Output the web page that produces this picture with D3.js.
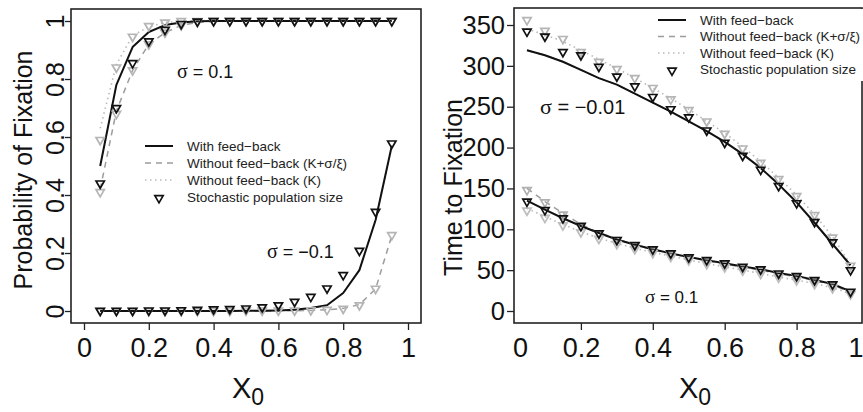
<!DOCTYPE html>
<html>
<head>
<meta charset="utf-8">
<script src="https://cdn.jsdelivr.net/npm/d3@7"></script>
<style>
  body { margin: 0; background: #fff; }
  text { font-family: "Liberation Sans", Arial, Helvetica, sans-serif; fill: #111; }
</style>
</head>
<body>
<div id="chart"></div>
<script>
// Canvas size
const width = 863,
      height = 412;

// Initial frequency x0 (shared by both panels)
const x0 = [0.05, 0.10, 0.15, 0.20, 0.25, 0.30, 0.35, 0.40, 0.45, 0.50,
            0.55, 0.60, 0.65, 0.70, 0.75, 0.80, 0.85, 0.90, 0.95];

// ---- Left panel: probability of fixation, sigma = 0.1
const probFbPos    = [0.50, 0.78, 0.91, 0.962, 0.986, 0.995, 0.999, 1, 1, 1, 1, 1, 1, 1, 1, 1, 1, 1, 1];
const probKsPos    = [0.42, 0.69, 0.83, 0.92, 0.96, 0.985, 0.995, 0.999, 1, 1, 1, 1, 1, 1, 1, 1, 1, 1, 1];
const probKPos     = [0.63, 0.85, 0.95, 0.98, 0.995, 0.999, 1, 1, 1, 1, 1, 1, 1, 1, 1, 1, 1, 1, 1];
const probStochPos = [0.44, 0.70, 0.855, 0.93, 0.97, 0.99, 0.998, 1, 1, 1, 1, 1, 1, 1, 1, 1, 1, 1, 1];
const probStochKPos  = [0.59, 0.84, 0.946, 0.983, 0.995, 1, 1, 1, 1, 1, 1, 1, 1, 1, 1, 1, 1, 1, 1];
const probStochKsPos = [0.41, 0.68, 0.83, 0.92, 0.96, 0.985, 0.997, 1, 1, 1, 1, 1, 1, 1, 1, 1, 1, 1, 1];

// ---- Left panel: probability of fixation, sigma = -0.1 (K curve lies under the solid one)
const probFbNeg    = [0, 0, 0, 0, 0, 0, 0, 0, 0, 0.001, 0.001, 0.002, 0.004, 0.01, 0.02, 0.062, 0.141, 0.314, 0.57];
const probKsNeg    = [0, 0, 0, 0, 0, 0, 0, 0, 0, 0, 0, 0, 0.001, 0.002, 0.004, 0.009, 0.022, 0.076, 0.26];
const probKNeg     = [0, 0, 0, 0, 0, 0, 0, 0, 0, 0.001, 0.001, 0.002, 0.004, 0.01, 0.02, 0.062, 0.141, 0.314, 0.57];
const probStochNeg = [0.001, 0.001, 0.001, 0.002, 0.002, 0.003, 0.004, 0.006, 0.007, 0.009, 0.013, 0.02, 0.032, 0.049, 0.078, 0.124, 0.208, 0.342, 0.578];
const probStochKsNeg = [0, 0, 0, 0, 0, 0, 0, 0, 0, 0.002, 0.002, 0.002, 0.002, 0.003, 0.004, 0.008, 0.02, 0.077, 0.262];

// ---- Right panel: time to fixation, sigma = -0.01 (K+sigma/xi curve lies under the solid one)
const timeFbTop    = [319, 313, 305, 295, 285, 277, 266, 255, 244, 232, 220, 207, 192, 175, 155, 133, 108, 82, 56];
const timeKsTop    = [319, 313, 305, 295, 285, 277, 266, 255, 244, 232, 220, 207, 192, 175, 155, 133, 108, 82, 56];
const timeKTop     = [345, 338, 330, 319, 308, 297, 285, 273, 260, 247, 232, 218, 201, 183, 163, 142, 118, 91, 57];
const timeStochTop = [342, 336, 317, 313, 299, 287, 275, 262, 247, 237, 221, 206, 190, 173, 153, 132, 109, 84, 50];
const timeStochKTop = [356, 343, 333, 317, 305, 296, 285, 273, 259, 246, 232, 217, 199, 181.5, 161.5, 140.7, 117.5, 90, 55.5];

// ---- Right panel: time to fixation, sigma = 0.1
const timeFbBot    = [135, 124, 113.5, 104, 95.5, 87.5, 81, 75.5, 70.5, 66, 62, 58.5, 54.5, 51, 46.5, 43, 38, 33, 24];
const timeKsBot    = [150, 134, 119.6, 106, 96, 88, 81, 75, 70, 65.5, 61.5, 57.5, 53.5, 50, 45.5, 42, 37, 32, 23];
const timeKBot     = [125.6, 115.4, 106, 97, 89, 82.8, 76.7, 71.8, 67.3, 62.4, 58, 54, 50, 46, 41.5, 38, 33.5, 28.5, 21];
const timeStochBot = [134, 123.6, 113.4, 104, 95, 87, 80.8, 75.5, 70.6, 65.7, 62.4, 58.4, 54.2, 51, 46, 42.8, 38, 32.6, 23.7];
const timeStochKsBot = [148, 133, 118, 105, 95, 87, 80, 74.5, 69.5, 65, 61, 57, 53, 49.5, 45, 41.5, 36.5, 31.5, 22.5];
const timeStochKBot  = [123, 114, 105, 96.5, 88.5, 82, 76, 71, 66.5, 62, 57.5, 53.5, 49.5, 45.5, 41, 37.5, 33, 28, 20.5];

// Tick values
const xTicks = [0, 0.2, 0.4, 0.6, 0.8, 1];
const probTicks = [0, 0.2, 0.4, 0.6, 0.8, 1];
const timeTicks = [0, 50, 100, 150, 200, 250, 300, 350];

const legendLabels = ["With feed\u2212back", "Without feed\u2212back (K+\u03c3/\u03be)",
                      "Without feed\u2212back (K)", "Stochastic population size"];

// Line styles
const styles = {
  solid:  { stroke: "#111", width: 2, dash: null },
  dashed: { stroke: "#9c9c9c", width: 1.5, dash: "6,5" },
  dotted: { stroke: "#b9b9b9", width: 1.6, dash: "1.5,3.5" }
};

const svg = d3.select("#chart").append("svg")
    .attr("width", width)
    .attr("height", height);

const tri = d3.symbol().type(d3.symbolTriangle).size(30);

function drawLines(g, x, y, series) {
  const line = d3.line().x((d, i) => x(x0[i])).y(d => y(d));
  series.forEach(s => {
    const st = styles[s.kind];
    g.append("path")
      .datum(s.vals)
      .attr("d", line)
      .attr("fill", "none")
      .attr("stroke", st.stroke)
      .attr("stroke-width", st.width)
      .attr("stroke-dasharray", st.dash)
      .attr("stroke-linejoin", "round");
  });
}

function drawTriangles(g, x, y, vals, color) {
  g.selectAll(null)
    .data(vals)
    .enter().append("path")
    .attr("d", tri)
    .attr("transform", (d, i) => `translate(${x(x0[i])},${y(d)}) rotate(180)`)
    .attr("fill", "none")
    .attr("stroke", color)
    .attr("stroke-width", 1.7);
}

function drawLegend(g, lx, ly, step) {
  const kinds = ["solid", "dashed", "dotted"];
  legendLabels.forEach((lab, i) => {
    const yy = ly + i * step;
    if (i < 3) {
      const st = styles[kinds[i]];
      g.append("line")
        .attr("x1", lx).attr("x2", lx + 28)
        .attr("y1", yy).attr("y2", yy)
        .attr("stroke", st.stroke)
        .attr("stroke-width", st.width)
        .attr("stroke-dasharray", st.dash);
    } else {
      g.append("path")
        .attr("d", tri)
        .attr("transform", `translate(${lx + 14},${yy + 1}) rotate(180)`)
        .attr("fill", "none")
        .attr("stroke", "#111")
        .attr("stroke-width", 1.7);
    }
    g.append("text")
      .attr("x", lx + 42)
      .attr("y", yy)
      .attr("dy", "0.35em")
      .style("font-size", "13.5px")
      .style("fill", "#222")
      .text(lab);
  });
}

function sigmaLabel(g, x, y, size, rest) {
  const t = g.append("text").attr("x", x).attr("y", y).style("font-size", size + "px");
  t.append("tspan").style("font-family", "'Liberation Serif', 'DejaVu Serif', serif")
    .style("font-size", (size + 2) + "px").text("\u03c3");
  t.append("tspan").text(rest);
}

function xLabel(g, cx, y) {
  const t = g.append("text").attr("x", cx).attr("y", y)
    .attr("text-anchor", "middle").style("font-size", "29px");
  t.append("tspan").text("X");
  t.append("tspan").attr("dy", 7).style("font-size", "23px").text("0");
}

// ================= Left panel =================
const boxL = { left: 71, top: 9, right: 421, bottom: 323 };
const xL = d3.scaleLinear().domain([0, 1]).range([84, 408]);
const yL = d3.scaleLinear().domain([0, 1]).range([311, 21]);
const gL = svg.append("g");

drawLines(gL, xL, yL, [
  { vals: probKPos, kind: "dotted" }, { vals: probKsPos, kind: "dashed" }, { vals: probFbPos, kind: "solid" },
  { vals: probKNeg, kind: "dotted" }, { vals: probKsNeg, kind: "dashed" }, { vals: probFbNeg, kind: "solid" }
]);
drawTriangles(gL, xL, yL, probStochKPos, "#b5b5b5");
drawTriangles(gL, xL, yL, probStochKsPos, "#b5b5b5");
drawTriangles(gL, xL, yL, probStochKsNeg, "#b5b5b5");
drawTriangles(gL, xL, yL, probStochPos, "#111");
drawTriangles(gL, xL, yL, probStochNeg, "#111");

gL.append("rect")
  .attr("x", boxL.left).attr("y", boxL.top)
  .attr("width", boxL.right - boxL.left).attr("height", boxL.bottom - boxL.top)
  .attr("fill", "none").attr("stroke", "#222").attr("stroke-width", 1.6);

const axLx = gL.append("g")
  .attr("transform", `translate(0,${boxL.bottom})`)
  .call(d3.axisBottom(xL).tickValues(xTicks).tickSize(7).tickPadding(8).tickFormat(d3.format("~g")));
const axLy = gL.append("g")
  .attr("transform", `translate(${boxL.left},0)`)
  .call(d3.axisLeft(yL).tickValues(probTicks).tickSize(6).tickFormat(d3.format("~g")));
[axLx, axLy].forEach(a => {
  a.select(".domain").remove();
  a.selectAll("line").attr("stroke", "#222").attr("stroke-width", 1.3);
  a.selectAll("text").style("font-size", "27px").attr("fill", "#111").style("font-family", "'Liberation Sans', Arial, sans-serif");
});
axLy.selectAll("text")
  .attr("x", null).attr("dy", null)
  .attr("text-anchor", "middle")
  .style("font-size", "25px")
  .attr("transform", "translate(-7,0) rotate(-90)");

gL.append("text")
  .attr("transform", `translate(32,${(boxL.top + boxL.bottom) / 2 + 4}) rotate(-90)`)
  .attr("text-anchor", "middle")
  .style("font-size", "25px")
  .text("Probability of Fixation");
xLabel(gL, 248, 398);

sigmaLabel(gL, 177, 78, 18, " = 0.1");
sigmaLabel(gL, 267, 258, 18, " = \u22120.1");
drawLegend(gL, 145, 146, 17);

// ================= Right panel =================
const boxR = { left: 514, top: 8, right: 862, bottom: 323 };
const xR = d3.scaleLinear().domain([0, 1]).range([509, 868.5]);
const yR = d3.scaleLinear().domain([0, 350]).range([311, 25]);
const gR = svg.append("g");

drawLines(gR, xR, yR, [
  { vals: timeKTop, kind: "dotted" }, { vals: timeKsTop, kind: "dashed" }, { vals: timeFbTop, kind: "solid" },
  { vals: timeKBot, kind: "dotted" }, { vals: timeKsBot, kind: "dashed" }, { vals: timeFbBot, kind: "solid" }
]);
drawTriangles(gR, xR, yR, timeStochKTop, "#b5b5b5");
drawTriangles(gR, xR, yR, timeStochKBot, "#bdbdbd");
drawTriangles(gR, xR, yR, timeStochKsBot, "#b0b0b0");
drawTriangles(gR, xR, yR, timeStochTop, "#111");
drawTriangles(gR, xR, yR, timeStochBot, "#111");

gR.append("rect")
  .attr("x", boxR.left).attr("y", boxR.top)
  .attr("width", boxR.right - boxR.left).attr("height", boxR.bottom - boxR.top)
  .attr("fill", "none").attr("stroke", "#222").attr("stroke-width", 1.6);

// legend background hides the right frame edge behind it
gR.append("rect")
  .attr("x", 650).attr("y", boxR.top + 1)
  .attr("width", 220).attr("height", 72)
  .attr("fill", "#fff");

const axRx = gR.append("g")
  .attr("transform", `translate(0,${boxR.bottom})`)
  .call(d3.axisBottom(xR).tickValues(xTicks).tickSize(7).tickPadding(8).tickFormat(d3.format("~g")));
const axRy = gR.append("g")
  .attr("transform", `translate(${boxR.left},0)`)
  .call(d3.axisLeft(yR).tickValues(timeTicks).tickSize(7).tickPadding(2).tickFormat(d3.format("~g")));
[axRx, axRy].forEach(a => {
  a.select(".domain").remove();
  a.selectAll("line").attr("stroke", "#222").attr("stroke-width", 1.3);
  a.selectAll("text").style("font-size", "27px").attr("fill", "#111").style("font-family", "'Liberation Sans', Arial, sans-serif");
});
axRy.selectAll("text").style("font-size", "25.5px");
// end ticks fall outside the frame: hide their marks, pull their labels inward
axRx.selectAll(".tick").filter(d => d === 0 || d === 1).select("line").remove();
axRx.selectAll(".tick").filter(d => d === 0).select("text").attr("x", 11);
axRx.selectAll(".tick").filter(d => d === 1).select("text").attr("x", -13);

gR.append("text")
  .attr("transform", `translate(462,${(boxR.top + boxR.bottom) / 2 + 22}) rotate(-90)`)
  .attr("text-anchor", "middle")
  .style("font-size", "25px")
  .text("Time to Fixation");
xLabel(gR, 695, 398);

sigmaLabel(gR, 540, 114, 20, " = \u22120.01");
sigmaLabel(gR, 645, 303, 17, " = 0.1");
drawLegend(gR, 658, 20, 16.5);
</script>
</body>
</html>
